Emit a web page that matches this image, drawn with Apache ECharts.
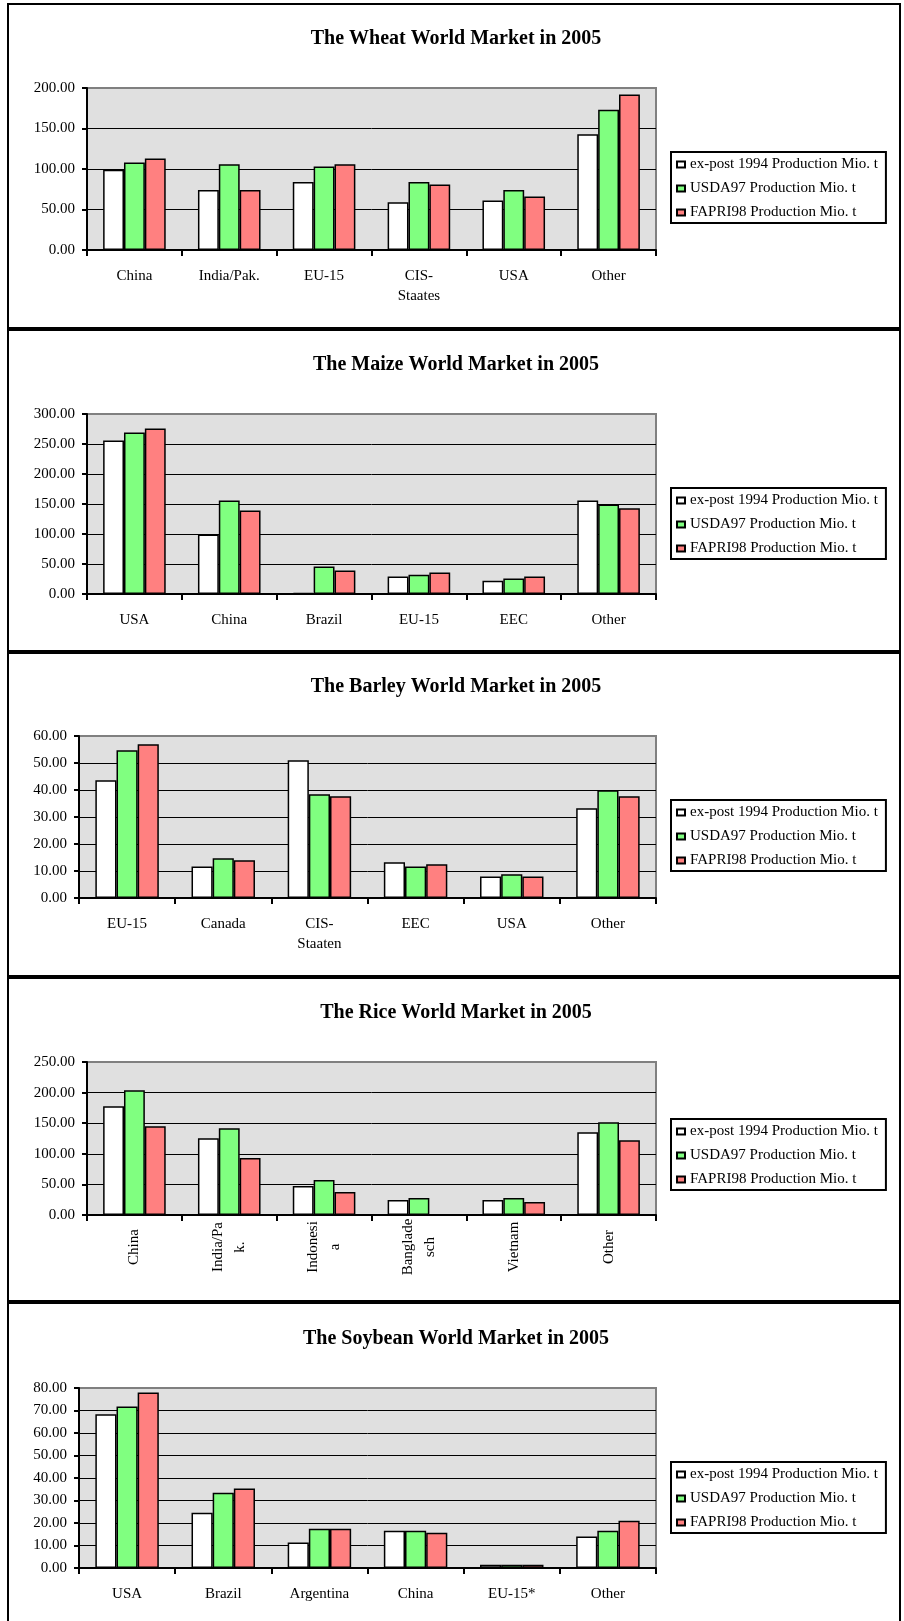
<!DOCTYPE html>
<html>
<head>
<meta charset="utf-8">
<script src="https://cdn.jsdelivr.net/npm/echarts@6/dist/echarts.min.js"></script>
<style>
html,body{margin:0;padding:0;background:#fff;}
#c{width:904px;height:1621px;}
</style>
</head>
<body>
<div id="c"></div>
<script>
// ---- Data ----
const seriesNames = ['ex-post 1994 Production Mio. t', 'USDA97 Production Mio. t', 'FAPRI98 Production Mio. t'];

const wheatTitle = 'The Wheat World Market in 2005';
const wheatCategories = ['China', 'India/Pak.', 'EU-15', 'CIS-\nStaates', 'USA', 'Other'];
const wheatExpost = [99, 74, 84, 59, 61, 143];
const wheatUSDA = [108, 106, 103, 84, 74, 173];
const wheatFAPRI = [113, 74, 106, 81, 66, 192];
const wheatTicks = {min: 0, max: 200, interval: 50};

const maizeTitle = 'The Maize World Market in 2005';
const maizeCategories = ['USA', 'China', 'Brazil', 'EU-15', 'EEC', 'Other'];
const maizeExpost = [256, 99, 2, 29, 22, 156];
const maizeUSDA = [269, 156, 46, 32, 26, 149];
const maizeFAPRI = [276, 139, 39, 36, 29, 143];
const maizeTicks = {min: 0, max: 300, interval: 50};

const barleyTitle = 'The Barley World Market in 2005';
const barleyCategories = ['EU-15', 'Canada', 'CIS-\nStaaten', 'EEC', 'USA', 'Other'];
const barleyExpost = [43.6, 11.7, 51.0, 13.2, 8.0, 33.2];
const barleyUSDA = [54.7, 14.7, 38.4, 11.7, 8.8, 39.9];
const barleyFAPRI = [56.9, 14.0, 37.7, 12.5, 8.0, 37.7];
const barleyTicks = {min: 0, max: 60, interval: 10};

const riceTitle = 'The Rice World Market in 2005';
const riceCategories = ['China', 'India/Pa\nk.', 'Indonesi\na', 'Banglade\nsch', 'Vietnam', 'Other'];
const riceExpost = [177.7, 125.5, 47.3, 24.5, 24.5, 135.3];
const riceUSDA = [203.8, 141.8, 57.0, 27.7, 27.7, 151.6];
const riceFAPRI = [145.0, 93.0, 37.5, null, 21.2, 122.3];
const riceTicks = {min: 0, max: 250, interval: 50};

const soyTitle = 'The Soybean World Market in 2005';
const soyCategories = ['USA', 'Brazil', 'Argentina', 'China', 'EU-15*', 'Other'];
const soyExpost = [68.3, 24.6, 11.3, 16.6, 1.5, 14.0];
const soyUSDA = [71.8, 33.5, 17.5, 16.6, 1.5, 16.6];
const soyFAPRI = [78.0, 35.3, 17.5, 15.7, 1.5, 21.0];
const soyTicks = {min: 0, max: 80, interval: 10};

// ---- Layout / style ----
const FONT = '"Liberation Serif", "Times New Roman", serif';
const colors = ['#FFFFFF', '#80FF80', '#FF8080'];

const panels = [
  {title: wheatTitle, cats: wheatCategories, data: [wheatExpost, wheatUSDA, wheatFAPRI], ticks: wheatTicks,
   grid: {left: 87, right: 248, top: 88, bottom: 1621 - 250}, titleTop: 24, legendTop: 152, rotate: false},
  {title: maizeTitle, cats: maizeCategories, data: [maizeExpost, maizeUSDA, maizeFAPRI], ticks: maizeTicks,
   grid: {left: 87, right: 248, top: 414, bottom: 1621 - 594}, titleTop: 350, legendTop: 488, rotate: false},
  {title: barleyTitle, cats: barleyCategories, data: [barleyExpost, barleyUSDA, barleyFAPRI], ticks: barleyTicks,
   grid: {left: 79, right: 248, top: 736, bottom: 1621 - 898}, titleTop: 672, legendTop: 800, rotate: false},
  {title: riceTitle, cats: riceCategories, data: [riceExpost, riceUSDA, riceFAPRI], ticks: riceTicks,
   grid: {left: 87, right: 248, top: 1062, bottom: 1621 - 1215}, titleTop: 998, legendTop: 1119, rotate: true},
  {title: soyTitle, cats: soyCategories, data: [soyExpost, soyUSDA, soyFAPRI], ticks: soyTicks,
   grid: {left: 79, right: 248, top: 1388, bottom: 1621 - 1568}, titleTop: 1324, legendTop: 1462, rotate: false}
];

const option = {
  animation: false,
  backgroundColor: '#FFFFFF',
  textStyle: {fontFamily: FONT},
  title: [], legend: [], grid: [], xAxis: [], yAxis: [], series: [],
  graphic: []
};

panels.forEach((p, i) => {
  option.title.push({
    text: p.title, left: 451, top: p.titleTop, textAlign: 'center',
    textStyle: {fontFamily: FONT, fontWeight: 'bold', fontSize: 20, color: '#000'}
  });
  option.legend.push({
    data: seriesNames, orient: 'vertical', left: 671, top: p.legendTop,
    padding: [5, 8, 3, 5], itemWidth: 8, itemHeight: 6, itemGap: 9,
    icon: 'rect', borderColor: '#000', borderWidth: 2, backgroundColor: '#fff',
    textStyle: {fontFamily: FONT, fontSize: 15, color: '#000'},
    selectedMode: false
  });
  option.grid.push(Object.assign({show: true, backgroundColor: '#E0E0E0', borderColor: '#808080', borderWidth: 2}, p.grid));
  option.xAxis.push({
    type: 'category', gridIndex: i, data: p.cats,
    axisLine: {lineStyle: {color: '#000', width: 2}},
    axisTick: {show: true, length: 6, lineStyle: {color: '#000', width: 2}},
    axisLabel: p.rotate ? {
      rotate: 90, align: 'center', margin: 32, interval: 0, lineHeight: 22,
      fontFamily: FONT, fontSize: 15, color: '#000'
    } : {
      margin: 16, interval: 0, lineHeight: 20,
      fontFamily: FONT, fontSize: 15, color: '#000'
    }
  });
  option.yAxis.push({
    type: 'value', gridIndex: i, min: p.ticks.min, max: p.ticks.max, interval: p.ticks.interval,
    axisLine: {show: true, lineStyle: {color: '#000', width: 2}},
    axisTick: {show: true, length: 5, lineStyle: {color: '#000', width: 2}},
    axisLabel: {margin: 12, fontFamily: FONT, fontSize: 15, color: '#000',
      formatter: v => v.toFixed(2)},
    splitLine: {show: true, showMaxLine: false, lineStyle: {color: '#000', width: 1}}
  });
  p.data.forEach((d, k) => {
    option.series.push({
      type: 'bar', name: seriesNames[k], xAxisIndex: i, yAxisIndex: i, data: d,
      barGap: '0%', barCategoryGap: '34%',
      itemStyle: {color: colors[k], borderColor: '#000', borderWidth: 1.5}
    });
  });
});

// Frame lines around panels
const sepY = [4, 329, 652, 977, 1302];
option.graphic.push({type: 'line', shape: {x1: 8, y1: 3, x2: 8, y2: 1621}, style: {stroke: '#000', lineWidth: 2}, z: 100});
option.graphic.push({type: 'line', shape: {x1: 900, y1: 3, x2: 900, y2: 1621}, style: {stroke: '#000', lineWidth: 2}, z: 100});
sepY.forEach((y, j) => {
  option.graphic.push({type: 'line', shape: {x1: 7, y1: y, x2: 901, y2: y},
    style: {stroke: '#000', lineWidth: j === 0 ? 2 : 4}, z: 100});
});

const chart = echarts.init(document.getElementById('c'), null, {renderer: 'canvas'});
chart.setOption(option);
</script>
</body>
</html>
